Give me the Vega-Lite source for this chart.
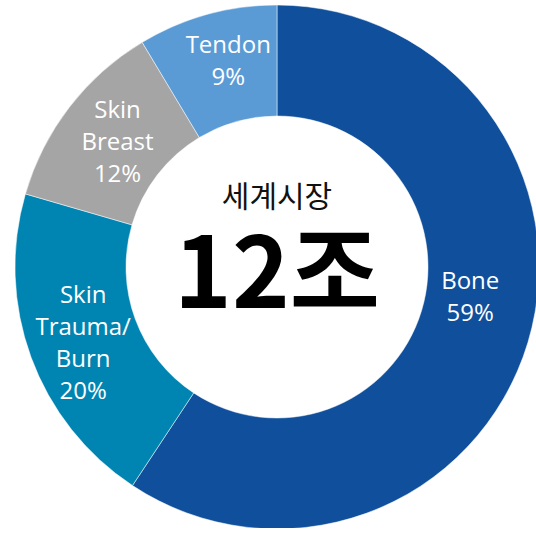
{
  "$schema": "https://vega.github.io/schema/vega-lite/v6.json",
  "autosize": "none",
  "padding": {"left": 18, "top": 6, "right": 0, "bottom": 0},
  "width": 518,
  "height": 522,
  "background": "white",
  "config": {"view": {"stroke": null}, "text": {"font": "Open Sans", "fontSize": 24, "lineHeight": 32, "lineBreak": "\n", "color": "white", "baseline": "middle", "align": "center"}},
  "datasets": {
    "slices": [
      {"name": "Bone", "label": "Bone\n59%", "share": 59.3, "order": 1},
      {"name": "Skin Trauma/Burn", "label": "Skin\nTrauma/\nBurn\n20%", "share": 20.2, "order": 2},
      {"name": "Skin Breast", "label": "Skin\nBreast\n12%", "share": 11.9, "order": 3},
      {"name": "Tendon", "label": "Tendon\n9%", "share": 8.6, "order": 4}
    ],
    "center": [{"title": "세계시장", "total": "12조"}]
  },
  "layer": [
    {
      "data": {"name": "slices"},
      "mark": {"type": "arc", "radius": 262, "radius2": 151, "stroke": "white", "strokeWidth": 0.5},
      "encoding": {
        "theta": {"field": "share", "type": "quantitative", "stack": true},
        "order": {"field": "order", "type": "quantitative"},
        "color": {
          "field": "name", "type": "nominal", "legend": null,
          "scale": {
            "domain": ["Bone", "Skin Trauma/Burn", "Skin Breast", "Tendon"],
            "range": ["#0F4F9C", "#0085B3", "#A5A5A5", "#5B9BD5"]
          }
        }
      }
    },
    {
      "data": {"name": "slices"},
      "mark": {"type": "text", "radius": 195, "dy": -41.5, "dx": 6.5},
      "encoding": {
        "theta": {"field": "share", "type": "quantitative", "stack": true},
        "order": {"field": "order", "type": "quantitative"},
        "text": {"field": "label"},
        "opacity": {"condition": {"test": "datum.name == 'Bone'", "value": 1}, "value": 0}
      }
    },
    {
      "data": {"name": "slices"},
      "mark": {"type": "text", "radius": 207, "dy": -42, "dx": 0.5},
      "encoding": {
        "theta": {"field": "share", "type": "quantitative", "stack": true},
        "order": {"field": "order", "type": "quantitative"},
        "text": {"field": "label"},
        "opacity": {"condition": {"test": "datum.name == 'Skin Trauma/Burn'", "value": 1}, "value": 0}
      }
    },
    {
      "data": {"name": "slices"},
      "mark": {"type": "text", "radius": 207, "dy": -29.5, "dx": 4.5},
      "encoding": {
        "theta": {"field": "share", "type": "quantitative", "stack": true},
        "order": {"field": "order", "type": "quantitative"},
        "text": {"field": "label"},
        "opacity": {"condition": {"test": "datum.name == 'Skin Breast'", "value": 1}, "value": 0}
      }
    },
    {
      "data": {"name": "slices"},
      "mark": {"type": "text", "radius": 207, "dy": -21.5, "dx": 6.5},
      "encoding": {
        "theta": {"field": "share", "type": "quantitative", "stack": true},
        "order": {"field": "order", "type": "quantitative"},
        "text": {"field": "label"},
        "opacity": {"condition": {"test": "datum.name == 'Tendon'", "value": 1}, "value": 0}
      }
    },
    {
      "data": {"name": "center"},
      "mark": {"type": "text", "font": "Noto Sans CJK KR", "fontSize": 30, "color": "#111111", "dy": -69},
      "encoding": {"text": {"field": "title"}}
    },
    {
      "data": {"name": "center"},
      "mark": {"type": "text", "font": "Noto Sans CJK KR", "fontSize": 98, "fontWeight": "bold", "color": "black", "dy": 12},
      "encoding": {"text": {"field": "total"}}
    }
  ]
}
